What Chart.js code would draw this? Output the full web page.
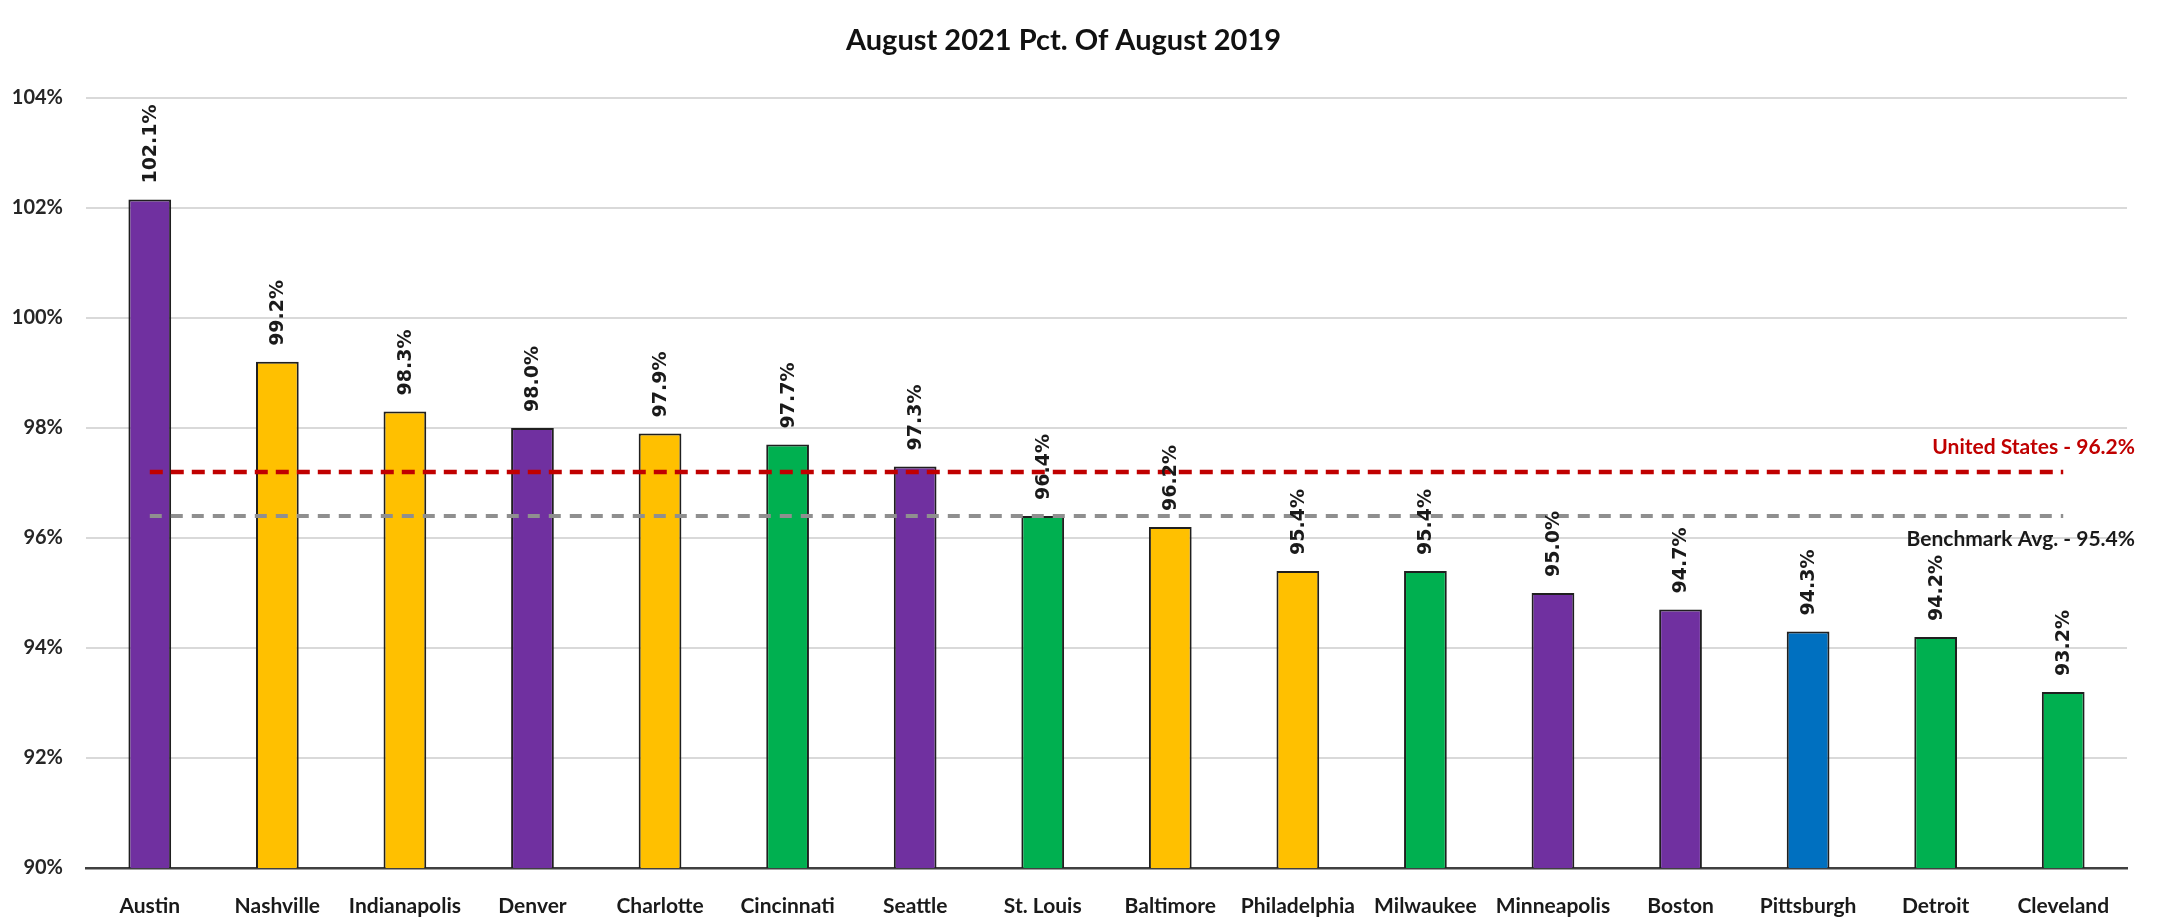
<!DOCTYPE html>
<html>
<head>
<meta charset="utf-8">
<script src="https://cdn.jsdelivr.net/npm/chart.js@4/dist/chart.umd.min.js"></script>
<style>
  html, body { margin: 0; padding: 0; background: #ffffff; }
  #wrap { width: 2164px; height: 920px; }
</style>
</head>
<body>
<div id="wrap"><canvas id="c" width="2164" height="920"></canvas></div>
<script>
const titleText = 'August 2021 Pct. Of August 2019';
const cities = ['Austin','Nashville','Indianapolis','Denver','Charlotte','Cincinnati','Seattle','St. Louis','Baltimore','Philadelphia','Milwaukee','Minneapolis','Boston','Pittsburgh','Detroit','Cleveland'];
const values = [102.15, 99.2, 98.3, 98.0, 97.9, 97.7, 97.3, 96.4, 96.2, 95.4, 95.4, 95.0, 94.7, 94.3, 94.2, 93.2];
const valueLabels = ['102.1%','99.2%','98.3%','98.0%','97.9%','97.7%','97.3%','96.4%','96.2%','95.4%','95.4%','95.0%','94.7%','94.3%','94.2%','93.2%'];
const groups = ['purple','gold','gold','purple','gold','green','purple','green','gold','gold','green','purple','purple','blue','green','green'];
const groupColors = { purple: '#7030A0', gold: '#FFC000', green: '#00B050', blue: '#0070C0' };
const usLevel = 97.2;          // drawn position of the US line
const usLabel = 'United States - 96.2%';
const benchLevel = 96.4;       // drawn position of the benchmark line
const benchLabel = 'Benchmark Avg. - 95.4%';
const yTicks = [90, 92, 94, 96, 98, 100, 102, 104];

const firstCity = cities[0], lastCity = cities[cities.length - 1];
const BAR_INDEX = 2;

const labelPlugin = {
  id: 'labelPlugin',
  afterDatasetsDraw(chart) {
    const ctx = chart.ctx;
    const meta = chart.getDatasetMeta(BAR_INDEX);
    ctx.save();
    ctx.fillStyle = '#1a1a1a';
    ctx.font = 'bold 19px "DejaVu Sans"';
    ctx.textAlign = 'left';
    ctx.textBaseline = 'middle';
    meta.data.forEach((bar, i) => {
      ctx.save();
      ctx.translate(bar.x + 1, bar.y - 16);
      ctx.rotate(-Math.PI / 2);
      ctx.fillText(valueLabels[i], 0, 0);
      ctx.restore();
    });
    const y = chart.scales.y;
    const right = chart.chartArea.right + 8;
    ctx.font = 'bold 21px Lato';
    ctx.textAlign = 'right';
    ctx.fillStyle = '#C00000';
    ctx.fillText(usLabel, right, y.getPixelForValue(usLevel) - 25);
    ctx.fillStyle = '#1a1a1a';
    ctx.fillText(benchLabel, right, y.getPixelForValue(benchLevel) + 23);
    ctx.restore();
  }
};

new Chart(document.getElementById('c'), {
  type: 'bar',
  data: {
    labels: cities,
    datasets: [
      {
        type: 'line',
        data: [{ x: firstCity, y: usLevel }, { x: lastCity, y: usLevel }],
        borderColor: '#C00000',
        borderWidth: 4.5,
        borderDash: [13, 8],
        pointRadius: 0,
        fill: false,
        order: 0
      },
      {
        type: 'line',
        data: [{ x: firstCity, y: benchLevel }, { x: lastCity, y: benchLevel }],
        borderColor: '#8f8f8f',
        borderWidth: 4,
        borderDash: [12, 9],
        pointRadius: 0,
        fill: false,
        order: 0
      },
      {
        data: values,
        backgroundColor: groups.map(g => groupColors[g]),
        borderColor: '#1f1f1f',
        borderWidth: 2,
        borderSkipped: 'bottom',
        barPercentage: 0.335,
        categoryPercentage: 1.0,
        order: 1
      }
    ]
  },
  options: {
    responsive: false,
    animation: false,
    devicePixelRatio: 1,
    layout: { padding: { left: 0, right: 37, top: 0, bottom: 0 } },
    plugins: {
      legend: { display: false },
      tooltip: { enabled: false },
      title: {
        display: true,
        text: titleText,
        color: '#111111',
        font: { family: 'Lato', size: 29, weight: 'bold' },
        padding: { top: 23, bottom: 40 }
      }
    },
    scales: {
      x: {
        grid: { display: false, drawTicks: false },
        border: { display: true, color: '#404040', width: 2.5 },
        ticks: {
          color: '#1a1a1a',
          font: { family: 'Lato', size: 21, weight: 'bold' },
          padding: 26,
          maxRotation: 0,
          autoSkip: false
        },
        afterFit(scale) { scale.height = 52; }
      },
      y: {
        min: 90,
        max: 104,
        afterBuildTicks(scale) { scale.ticks = yTicks.map(v => ({ value: v })); },
        grid: {
          color: (c) => c.tick && c.tick.value === 90 ? 'rgba(0,0,0,0)' : '#d9d9d9',
          lineWidth: 2,
          drawTicks: false
        },
        border: { display: false },
        ticks: {
          color: '#262626',
          font: { family: 'Lato', size: 20, weight: 'bold' },
          padding: 23,
          callback: (v) => v + '%'
        },
        afterFit(scale) { scale.width = 86; }
      }
    }
  },
  plugins: [labelPlugin]
});
</script>
</body>
</html>
